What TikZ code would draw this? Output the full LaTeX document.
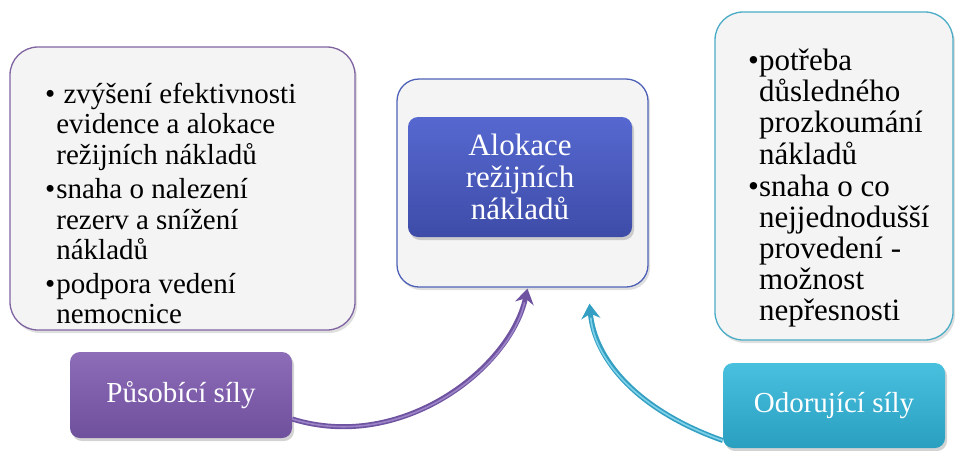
\documentclass[tikz,border=0pt]{standalone}
\usepackage{fontspec}
\setmainfont{Liberation Serif}
\usetikzlibrary{arrows.meta,shadows,calc}

\definecolor{panelfill}{HTML}{F4F4F4}
\definecolor{purpleline}{HTML}{8064A2}
\definecolor{blueline}{HTML}{4F62B8}
\definecolor{cyanline}{HTML}{4BACC6}
\definecolor{bluetop}{HTML}{5668D0}
\definecolor{bluebot}{HTML}{3E4CA8}
\definecolor{purpletop}{HTML}{8D6CB8}
\definecolor{purplebot}{HTML}{6F509C}
\definecolor{cyantop}{HTML}{48C0DE}
\definecolor{cyanbot}{HTML}{2A9FC0}
\definecolor{purplearrow}{HTML}{6F53A0}
\definecolor{purpleshine}{HTML}{9C84C8}
\definecolor{cyanarrow}{HTML}{349FC2}
\definecolor{cyanshine}{HTML}{7ED2EA}

\tikzset{
  panel/.style={draw=#1, line width=1.3pt, fill=panelfill, rounded corners=28pt,
    drop shadow={opacity=0.25, shadow xshift=2pt, shadow yshift=-3pt}},
  tile/.style={rounded corners=10pt, draw=none,
    drop shadow={opacity=0.35, shadow xshift=2pt, shadow yshift=-3pt}},
  listtext/.style={inner sep=0pt, anchor=north west, align=left},
  forcearrow/.style 2 args={line width=5pt, draw=#1,
    -{Stealth[length=15pt, width=19pt, inset=5pt]},
    postaction={draw=#2, line width=1.6pt, -, shorten >=14pt}},
}

\begin{document}
\begin{tikzpicture}[x=1pt, y=-1pt]
  \useasboundingbox (0,0) rectangle (955,450);

  % side panels with the arguments
  \node[panel=purpleline, minimum width=345pt, minimum height=283pt] (left) at (182.5,188.5) {};
  \node[panel=cyanline, minimum width=238pt, minimum height=328pt] (right) at (834,176) {};

  % central frame and title tile
  \node[panel=blueline, rounded corners=22pt, minimum width=251pt, minimum height=208pt] (frame) at (522.5,183) {};
  \node[tile, top color=bluetop, bottom color=bluebot, minimum width=224pt, minimum height=120pt,
        text=white, align=center, font=\fontsize{31}{32}\selectfont] (alo) at (520,177)
        {Alokace\\režijních\\nákladů};

  % force labels
  \node[tile, top color=purpletop, bottom color=purplebot, minimum width=222pt, minimum height=86pt,
        text=white, font=\fontsize{29}{30}\selectfont] (pus) at (181,395) {Působící síly};
  \node[tile, top color=cyantop, bottom color=cyanbot, minimum width=222pt, minimum height=85pt,
        text=white, font=\fontsize{29}{30}\selectfont] (odo) at (834,405.5) {Odorující síly};

  % bullet lists
  \node[listtext, font=\fontsize{29}{30.5}\selectfont] (lefttext) at (45,81.6) {%
    \begin{tabular}{@{}l@{\hspace{1pt}}l@{}}
      \textbullet & \ zvýšení efektivnosti\\
                  & evidence a alokace\\
                  & režijních nákladů\\[4pt]
      \textbullet & snaha o nalezení\\
                  & rezerv a snížení\\
                  & nákladů\\[3pt]
      \textbullet & podpora vedení\\
                  & nemocnice
    \end{tabular}};
  \node[listtext, font=\fontsize{31}{31}\selectfont] (righttext) at (748,48.3) {%
    \begin{tabular}{@{}l@{}l@{}}
      \textbullet & potřeba\\
                  & důsledného\\
                  & prozkoumání\\
                  & nákladů\\[1pt]
      \textbullet & snaha o co\\
                  & nejjednodušší\\
                  & provedení -\\
                  & možnost\\
                  & nepřesnosti
    \end{tabular}};

  % curved arrows into the central frame
  \draw[forcearrow={purplearrow}{purpleshine}] ($(pus.east)+(0,24)$)
    .. controls ($(pus.east)+(110,58)$) and ($(frame.south)+(-12,80)$) .. ($(frame.south)+(5,1)$);
  \draw[forcearrow={cyanarrow}{cyanshine}] ($(odo.west)+(0,35)$)
    .. controls ($(odo.west)+(-85,5)$) and ($(frame.south)+(72,72)$) .. ($(frame.south)+(67,16)$);
\end{tikzpicture}
\end{document}
